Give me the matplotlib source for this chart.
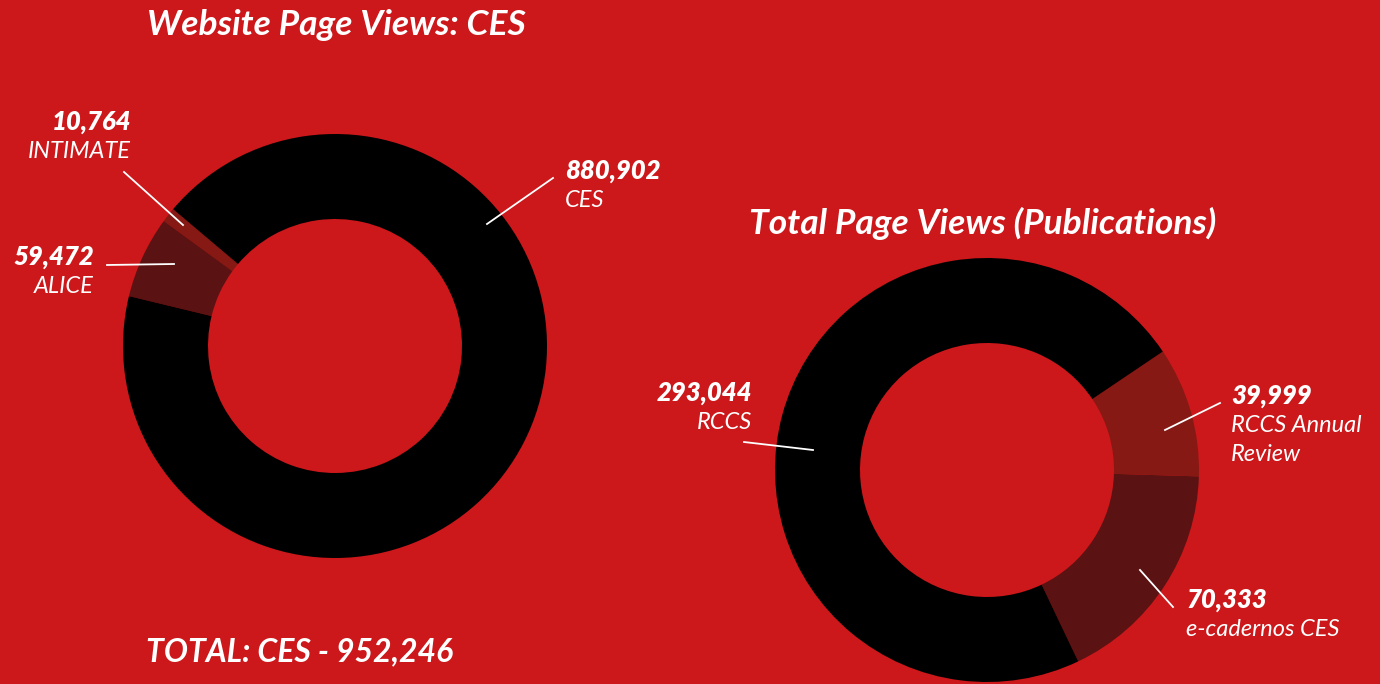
import matplotlib.pyplot as plt
from matplotlib import font_manager

# Data
web_labels = ["INTIMATE", "ALICE", "CES"]
web_values = [10764, 59472, 880902]
web_total = 952246

pub_labels = ["e-cadernos CES", "RCCS Annual\nReview", "RCCS"]
pub_values = [70333, 39999, 293044]

BG = "#cc171b"
W, H = 1380, 684

names = {f.name for f in font_manager.fontManager.ttflist}
FONT = "Lato" if "Lato" in names else "DejaVu Sans"
plt.rcParams['font.family'] = [FONT, 'DejaVu Sans']

fig = plt.figure(figsize=(W / 100, H / 100), dpi=100, facecolor=BG)
ax = fig.add_axes([0, 0, 1, 1])
ax.set_facecolor(BG)


def py(y):
    # pixel row (from top) -> data y
    return H - y


ring = dict(width=85, linewidth=0)
ax.pie(web_values, colors=["#861913", "#5b1212", "#000000"], startangle=139.8,
       counterclock=True, center=(335, py(346)), radius=212, wedgeprops=ring)
ax.pie(pub_values, colors=["#5b1212", "#861913", "#000000"], startangle=-64.5,
       counterclock=True, center=(987, py(470)), radius=212, wedgeprops=ring)

ax.set_xlim(0, W)
ax.set_ylim(0, H)
ax.set_aspect('equal')
ax.axis('off')

title_kw = dict(color="white", fontweight="bold", style="italic", va="center", ha="left")
ax.text(147, py(25), "Website Page Views: CES", fontsize=25.5, **title_kw)
ax.text(749, py(223), "Total Page Views (Publications)", fontsize=25.5, **title_kw)
ax.text(146, py(652), f"TOTAL: CES - {web_total:,}", fontsize=23, **title_kw)

val_kw = dict(color="white", fontsize=18.5, fontweight="heavy", style="italic", va="center")
name_kw = dict(color="white", fontsize=17, style="italic", va="top", linespacing=1.45)


def label(x, y, value, name, ha, line):
    ax.text(x, py(y), f"{value:,}", ha=ha, **val_kw)
    ax.text(x, py(y + 19), name, ha=ha, **name_kw)
    (x0, y0), (x1, y1) = line
    ax.plot([x0, x1], [py(y0), py(y1)], color="white", lw=1.3)


label(131, 122, web_values[0], web_labels[0], "right", ((124, 172), (183, 225)))
label(94, 257, web_values[1], web_labels[1], "right", ((107, 265), (174, 264)))
label(565, 171, web_values[2], web_labels[2], "left", ((553, 178), (487, 224)))

label(752, 393, pub_values[2], pub_labels[2], "right", ((744, 442), (813, 450)))
label(1231, 396, pub_values[1], pub_labels[1], "left", ((1220, 403), (1165, 430)))
label(1186, 600, pub_values[0], pub_labels[0], "left", ((1173, 607), (1140, 570)))

fig.savefig("out.png", dpi=100, facecolor=BG)
